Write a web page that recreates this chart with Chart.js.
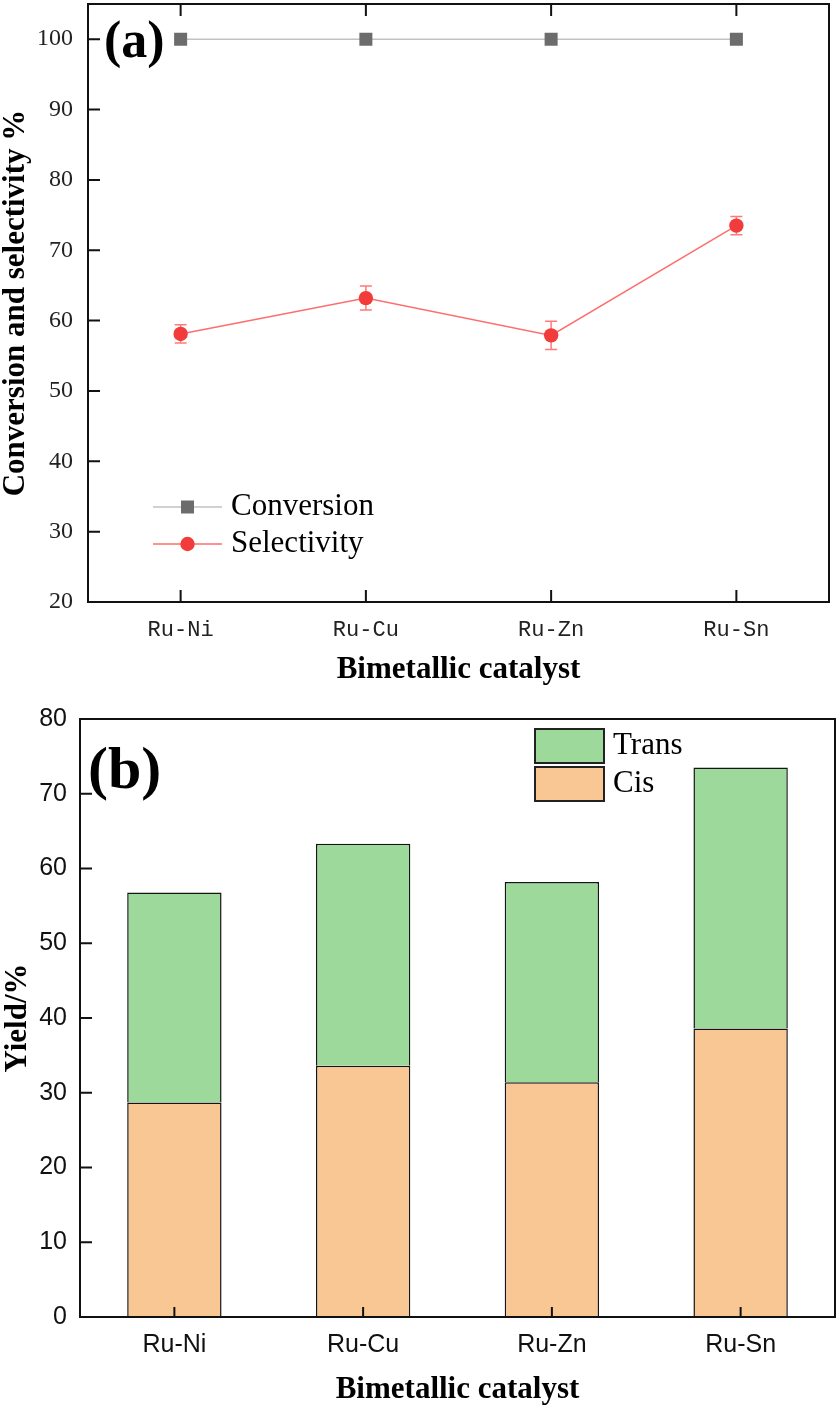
<!DOCTYPE html>
<html>
<head>
<meta charset="utf-8">
<script src="https://cdn.jsdelivr.net/npm/chart.js@4.4.0/dist/chart.umd.min.js"></script>
<style>
  html, body { margin: 0; padding: 0; background: #fff; }
  #wrap { position: relative; width: 839px; height: 1410px; }
  #c1 { position: absolute; left: 0; top: 0; }
  #c2 { position: absolute; left: 0; top: 700px; }
</style>
</head>
<body>
<div id="wrap">
  <canvas id="c1" width="839" height="700"></canvas>
  <canvas id="c2" width="839" height="710"></canvas>
</div>
<script>
// ---- data ----
const catalysts      = ['Ru-Ni', 'Ru-Cu', 'Ru-Zn', 'Ru-Sn'];
const conversion     = [100, 100, 100, 100];
const selectivity    = [58.1, 63.2, 57.9, 73.5];
const selectivityErr = [1.3, 1.7, 2.0, 1.3];
const yTicksA        = [20, 30, 40, 50, 60, 70, 80, 90, 100];

const cisYield   = [28.7, 33.6, 31.4, 38.6];
const transYield = [28.1, 29.7, 26.8, 34.9];
const yTicksB    = [0, 10, 20, 30, 40, 50, 60, 70, 80];

const SERIF = "'Liberation Serif', 'Times New Roman', serif";
const SANS  = "'Liberation Sans', Arial, sans-serif";
const MONO  = "'Liberation Mono', 'Courier New', monospace";

// keep the plot area where the layout padding puts it
function fitY(w) { return s => { s.width = w; s.paddingTop = 0; s.paddingBottom = 0; }; }
function fitX(h) { return s => { s.height = h; s.paddingLeft = 0; s.paddingRight = 0; }; }

// frame, inward ticks, error bars, panel letter, legend
function decoPlugin(cfg) {
  return {
    id: 'deco',
    beforeDatasetsDraw(chart) {
      const { ctx, scales: { x, y } } = chart;
      chart.data.datasets.forEach(ds => {
        if (!ds.errors) return;
        ctx.save();
        ctx.strokeStyle = ds.errColor; ctx.lineWidth = 1.5;
        ds.data.forEach((v, i) => {
          const px = x.getPixelForValue(i);
          const t = y.getPixelForValue(v + ds.errors[i]);
          const b = y.getPixelForValue(v - ds.errors[i]);
          ctx.beginPath();
          ctx.moveTo(px, t); ctx.lineTo(px, b);
          ctx.moveTo(px - 6, t); ctx.lineTo(px + 6, t);
          ctx.moveTo(px - 6, b); ctx.lineTo(px + 6, b);
          ctx.stroke();
        });
        ctx.restore();
      });
    },
    afterDatasetsDraw(chart) {
      const { ctx, chartArea: a, scales: { x, y } } = chart;
      ctx.save();
      ctx.strokeStyle = '#111'; ctx.lineWidth = 2;
      ctx.strokeRect(a.left, a.top, a.right - a.left, a.bottom - a.top);
      ctx.beginPath();
      y.ticks.forEach(t => {
        const py = y.getPixelForValue(t.value);
        ctx.moveTo(a.left, py); ctx.lineTo(a.left + cfg.tickY, py);
      });
      x.ticks.forEach((t, i) => {
        const px = x.getPixelForTick(i);
        ctx.moveTo(px, a.bottom); ctx.lineTo(px, a.bottom - cfg.tickX);
        if (cfg.topTicks) { ctx.moveTo(px, a.top); ctx.lineTo(px, a.top + cfg.tickX); }
      });
      ctx.stroke();

      ctx.fillStyle = '#000';
      ctx.font = 'bold ' + cfg.letterSize + 'px ' + SERIF;
      ctx.textBaseline = 'middle'; ctx.textAlign = 'left';
      ctx.fillText(cfg.letter, cfg.letterX, cfg.letterY);

      if (cfg.legend) cfg.legend(chart, ctx);
      ctx.restore();
    }
  };
}

// ---- (a) conversion / selectivity ----
new Chart(document.getElementById('c1'), {
  type: 'line',
  data: {
    labels: catalysts,
    datasets: [
      { label: 'Conversion', data: conversion, borderColor: '#c2c2c2', borderWidth: 1.5,
        pointStyle: 'rect', pointRadius: 9.2, pointBackgroundColor: '#6c6c6c',
        pointBorderColor: '#6c6c6c', pointBorderWidth: 0 },
      { label: 'Selectivity', data: selectivity, borderColor: '#ff6d6d', borderWidth: 1.5,
        pointStyle: 'circle', pointRadius: 7.2, pointBackgroundColor: '#f23b3b',
        pointBorderColor: '#f23b3b', pointBorderWidth: 0,
        errors: selectivityErr, errColor: '#ff7a7a' }
    ]
  },
  options: {
    responsive: false, animation: false,
    layout: { autoPadding: false, padding: { top: 4, right: 10, left: 0, bottom: 0 } },
    plugins: { legend: { display: false }, tooltip: { enabled: false } },
    scales: {
      x: {
        type: 'category', offset: true,
        grid: { display: false, drawTicks: false }, border: { display: false },
        ticks: { color: '#222', padding: 15, font: { family: MONO, size: 22 } },
        afterFit: fitX(98),
        title: { display: true, text: 'Bimetallic catalyst', color: '#000',
                 font: { family: SERIF, size: 31, weight: 'bold', lineHeight: 1 },
                 padding: { top: 0, bottom: 15 } }
      },
      y: {
        min: 20, max: 105,
        afterBuildTicks: s => { s.ticks = yTicksA.map(v => ({ value: v })); },
        grid: { display: false, drawTicks: false }, border: { display: false },
        ticks: { color: '#222', padding: 15, font: { family: SERIF, size: 24 } },
        afterFit: fitY(88),
        title: { display: true, text: 'Conversion and selectivity %', color: '#000',
                 font: { family: SERIF, size: 31, weight: 'bold', lineHeight: 1 },
                 padding: { top: 0, bottom: 0 } }
      }
    }
  },
  plugins: [decoPlugin({
    tickX: 12, tickY: 12, topTicks: true,
    letter: '(a)', letterSize: 52, letterX: 104, letterY: 44,
    legend(chart, ctx) {
      chart.data.datasets.forEach((ds, i) => {
        const ly = 507 + i * 37;
        ctx.strokeStyle = ds.borderColor; ctx.lineWidth = ds.borderWidth;
        ctx.beginPath(); ctx.moveTo(153, ly); ctx.lineTo(222, ly); ctx.stroke();
        ctx.fillStyle = ds.pointBackgroundColor;
        if (ds.pointStyle === 'rect') {
          ctx.fillRect(187.5 - 6.5, ly - 6.5, 13, 13);
        } else {
          ctx.beginPath(); ctx.arc(187.5, ly, ds.pointRadius, 0, Math.PI * 2); ctx.fill();
        }
        ctx.fillStyle = '#000';
        ctx.font = '31px ' + SERIF;
        ctx.textBaseline = 'middle';
        ctx.fillText(ds.label, 231, ly);
      });
    }
  })]
});

// ---- (b) yield ----
new Chart(document.getElementById('c2'), {
  type: 'bar',
  data: {
    labels: catalysts,
    datasets: [
      { label: 'Cis', data: cisYield, backgroundColor: '#f9c794', borderColor: '#151515',
        borderWidth: 1.5, categoryPercentage: 0.5, barPercentage: 1 },
      { label: 'Trans', data: transYield, backgroundColor: '#9cd99a', borderColor: '#151515',
        borderWidth: 1.5, categoryPercentage: 0.5, barPercentage: 1 }
    ]
  },
  options: {
    responsive: false, animation: false,
    layout: { autoPadding: false, padding: { top: 19, right: 4, left: 0, bottom: 0 } },
    plugins: { legend: { display: false }, tooltip: { enabled: false } },
    scales: {
      x: {
        stacked: true,
        grid: { display: false, drawTicks: false }, border: { display: false },
        ticks: { color: '#111', padding: 13, font: { family: SANS, size: 25 } },
        afterFit: fitX(93),
        title: { display: true, text: 'Bimetallic catalyst', color: '#000',
                 font: { family: SERIF, size: 31, weight: 'bold', lineHeight: 1 },
                 padding: { top: 0, bottom: 5 } }
      },
      y: {
        stacked: true, min: 0, max: 80,
        afterBuildTicks: s => { s.ticks = yTicksB.map(v => ({ value: v })); },
        grid: { display: false, drawTicks: false }, border: { display: false },
        ticks: { color: '#111', padding: 13, font: { family: SANS, size: 25 } },
        afterFit: fitY(80),
        title: { display: true, text: 'Yield/%', color: '#000',
                 font: { family: SERIF, size: 31, weight: 'bold', lineHeight: 1 },
                 padding: { top: 2, bottom: 0 } }
      }
    }
  },
  plugins: [decoPlugin({
    tickX: 10, tickY: 12, topTicks: false,
    letter: '(b)', letterSize: 60, letterX: 88, letterY: 72,
    legend(chart, ctx) {
      // Trans on top, Cis below, as in the figure
      [1, 0].forEach((di, row) => {
        const ds = chart.data.datasets[di];
        const by = 29 + row * 38;
        ctx.fillStyle = ds.backgroundColor;
        ctx.fillRect(535, by, 69, 34);
        ctx.strokeStyle = '#222'; ctx.lineWidth = 2;
        ctx.strokeRect(535, by, 69, 34);
        ctx.fillStyle = '#000';
        ctx.font = '31px ' + SERIF;
        ctx.textBaseline = 'middle';
        ctx.fillText(ds.label, 613, by + 17);
      });
    }
  })]
});
</script>
</body>
</html>
